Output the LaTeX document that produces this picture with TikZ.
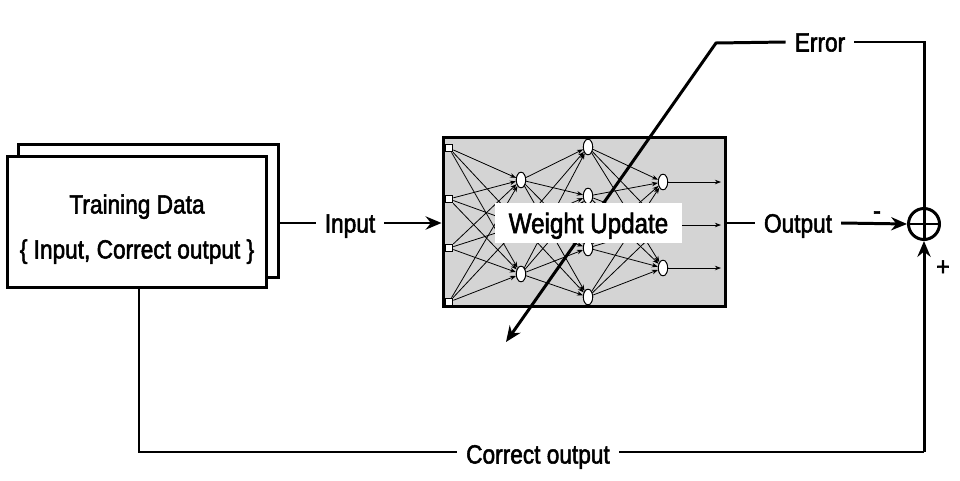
\documentclass[tikz,border=0pt]{standalone}
\usepackage{fontspec}
\setmainfont[FakeStretch=0.86,FakeBold=2]{Liberation Sans}
\usetikzlibrary{arrows.meta,shapes.geometric}
\definecolor{netgray}{RGB}{212,212,212}
\begin{document}
\begin{tikzpicture}[x=0.02cm,y=-0.02cm,
  thickline/.style={line width=1.7pt},
  txt/.style={font=\fontsize{15}{18}\selectfont,text height=10.8pt,text depth=0pt},
  lbl/.style={txt,fill=white,inner xsep=5pt,inner ysep=3pt},
  boxst/.style={draw,line width=1.7pt,fill=white,inner sep=0pt},
  neuron/.style={ellipse,draw,fill=white,line width=0.5pt,minimum width=5.3pt,minimum height=8.8pt,inner sep=0pt},
  inp/.style={rectangle,draw,fill=white,line width=0.5pt,minimum size=4.4pt,inner sep=0pt},
  syn/.style={line width=0.45pt,-{Stealth[length=3.5pt,width=2.6pt]}},
  bigtip/.style={-{Stealth[length=9pt,width=7.5pt]}}]
\useasboundingbox (0,0) rectangle (960,480);

% training data boxes
\node[boxst,minimum width=5.22cm,minimum height=2.68cm] (back) at (148.5,211) {};
\node[boxst,minimum width=5.2cm,minimum height=2.64cm] (front) at (137,222) {};
\node[txt] (td) at (137,204) {Training Data};
\node[txt] (td2) at (137,249) {\{ Input, Correct output \}};

% network box
\node[draw,line width=1.7pt,fill=netgray,minimum width=5.66cm,minimum height=3.4cm,inner sep=0pt] (net) at (584.5,222) {};

% neurons
\foreach \y [count=\i] in {148,199,248,302} \node[inp] (i\i) at (449,\y) {};
\foreach \y [count=\i] in {180,225,274} \node[neuron] (a\i) at (521,\y) {};
\foreach \y [count=\i] in {147,196,248,297} \node[neuron] (b\i) at (588,\y) {};
\foreach \y [count=\i] in {182,225,268} {
  \node[neuron] (o\i) at (663,\y) {};
  \coordinate (e\i) at (721,\y);
}
\foreach \i in {1,...,4} \foreach \j in {1,2,3} \draw[syn] (i\i) -- (a\j);
\foreach \i in {1,2,3} \foreach \j in {1,...,4} \draw[syn] (a\i) -- (b\j);
\foreach \i in {1,...,4} \foreach \j in {1,2,3} \draw[syn] (b\i) -- (o\j);
\foreach \j in {1,2,3} \draw[syn] (o\j) -- (e\j);
\foreach \i in {1,...,4} \node[inp] at (i\i) {};
\foreach \i in {1,2,3} \node[neuron] at (a\i) {};
\foreach \i in {1,...,4} \node[neuron] at (b\i) {};
\foreach \i in {1,2,3} \node[neuron] at (o\i) {};

% summing junction
\node[circle,draw,line width=1.7pt,minimum size=0.62cm,inner sep=0pt] (sum) at (924,224) {};
\draw[line width=1.7pt] (sum.north) -- (sum.south) (sum.west) -- (sum.east);

% error feedback
\node[lbl] (err) at (820,42) {Error};
\coordinate (corner) at (716,43);
\coordinate (tip) at (506,342);
\draw[thickline] (sum.north) |- (err.east);
\draw[thickline,bigtip] (err.west) -- (corner) -- (tip);

% weight update label
\node[fill=white,minimum width=3.74cm,minimum height=0.8cm,inner sep=0pt,font=\fontsize{16}{19}\selectfont,text height=11.5pt,text depth=0pt] (wu) at (588.5,223) {Weight Update};

% input
\node[lbl] (inl) at (350,223) {Input};
\draw[thickline] (back.east |- inl.west) -- (inl.west);
\draw[thickline,bigtip] (inl.east) -- (net.west |- inl.east);

% output
\node[lbl] (outl) at (798,223) {Output};
\draw[thickline] (net.east |- outl.west) -- (outl.west);
\draw[thickline,bigtip] (outl.east) -- (sum.west);
\node[txt] (minus) at (877,210) {-};
\node[txt] (plus) at (943,266) {+};

% correct output
\coordinate (cl) at (139,452);
\coordinate (cr) at (924,452);
\draw[thickline] (front.south -| cl) -- (cl) -- (cr);
\draw[thickline,bigtip] (cr) -- (sum.south);
\node[lbl] (col) at (538,454) {Correct output};
\end{tikzpicture}
\end{document}
